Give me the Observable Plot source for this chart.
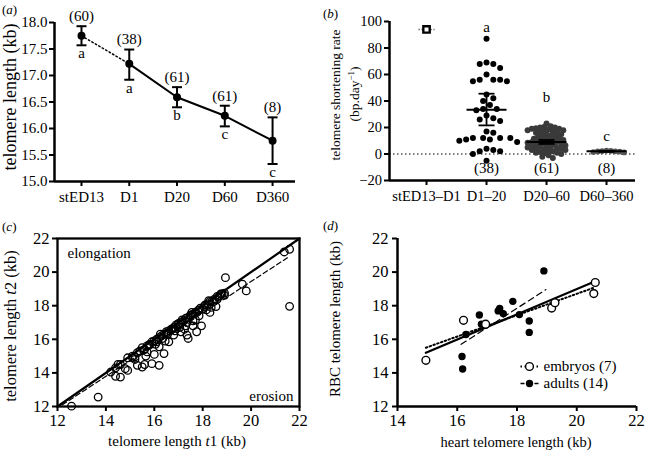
<!DOCTYPE html>
<html><head><meta charset="utf-8">
<script src="https://cdn.jsdelivr.net/npm/d3@7"></script>
<script src="https://cdn.jsdelivr.net/npm/@observablehq/plot@0.6"></script>
<style>
body{margin:0;background:#fff;width:646px;height:451px;position:relative;overflow:hidden;}
.panel{position:absolute;}
.panel svg{overflow:visible;}
</style></head><body>
<div id="pa" class="panel" style="left:0;top:0"></div>
<div id="pb" class="panel" style="left:320px;top:0"></div>
<div id="pc" class="panel" style="left:0;top:220px"></div>
<div id="pd" class="panel" style="left:320px;top:220px"></div>
<script>
const FONT = "Liberation Serif, Times New Roman, serif";

// ---------- Panel (a) data ----------
const stagesA = ["stED13", "D1", "D20", "D60", "D360"];
const meanA = [17.75, 17.22, 16.59, 16.24, 15.77];
const loA = [17.57, 16.92, 16.40, 16.04, 15.33];
const hiA = [17.93, 17.49, 16.78, 16.43, 16.21];
const nA = [60, 38, 61, 61, 8];
const letterA = ["a", "a", "b", "c", "c"];

// ---------- Panel (b) data ----------
const groupsB = ["stED13–D1", "D1–20", "D20–60", "D60–360"];
const rateStED = [94];
const rateD1_20 = [87, 69, 68, 68, 65, 60, 56, 56, 55, 55, 56, 45, 42, 40, 37, 34, 33, 34, 29, 26, 27, 25,
  17, 16, 12, 12, 12, 11, 11, 12, 9, 10, 4, 3, 2, 2, 0, -5];
const rateD20_60 = [23, 21, 20.5, 20, 20, 19.5, 19, 19, 18.5, 18, 18, 17.5, 17, 16.5, 16, 16, 15, 15, 14, 14,
  13, 13, 12.5, 12, 11.5, 11, 11, 10.5, 10, 10, 9.5, 9, 9, 8.5, 8, 8, 7.5, 7, 7, 6.5,
  6, 6, 5.5, 5, 5, 4.5, 4, 4, 3.5, 3, 3, 2.5, 2, 1.5, 1, 1, 0.5, 0, -1, -2, -3];
const rateD60_360 = [2.6, 2.2, 2.0, 1.9, 1.8, 1.5, 1.2, 2.4];
const meanB = [94, 33.4, 9.0, 2.0];
const loB = [null, 21.6, 7.6, 1.6];
const hiB = [null, 45.5, 10.6, 2.4];
const nB = [null, 38, 61, 8];
const letterB = ["", "a", "b", "c"];
const letterAtB = [null, 96, 43, 13.5];

// ---------- Panel (c) data ----------
const t1C = [12.58, 13.68, 21.59, 21.37, 21.59, 19.64, 19.8, 18.94, 18.9,
  14.2, 14.4, 14.5, 14.6, 14.8, 14.9, 15.1, 15.2, 15.3, 15.5, 15.6, 15.55, 15.7, 15.8, 15.9, 16.0, 16.1, 16.2, 16.2,
  16.35, 16.4, 16.5, 16.6, 16.7, 16.8, 16.9, 17.0, 17.1, 17.15, 17.3, 17.35, 17.4, 17.5, 17.6, 17.7, 17.75, 17.85,
  17.95, 18.05, 18.15, 18.25, 18.3, 18.45, 18.55, 18.65, 18.75,
  14.4, 14.6, 14.9, 15.1, 15.3, 15.4, 15.5, 15.6, 15.7, 15.8, 15.9, 16.0, 16.05, 16.1, 16.2, 16.25, 16.3, 16.4,
  16.5, 16.55, 16.6, 16.7, 16.8, 16.85, 16.9, 17.0, 17.05, 17.1, 17.2, 17.3, 17.35, 17.4, 17.5, 17.55, 17.6, 17.7,
  17.8, 17.85, 17.9, 18.0, 18.1, 18.2, 18.3, 18.4, 18.5, 18.6, 18.7, 18.8, 18.9, 15.2, 15.65, 16.45, 17.25, 17.6, 18.35];
const t2C = [12.02, 12.56, 17.96, 21.2, 21.36, 19.28, 18.88, 19.67, 18.62,
  14.05, 13.8, 14.5, 13.75, 14.25, 14.15, 14.9, 14.95, 14.45, 14.35, 14.5, 15.35, 15.25, 15.65, 14.55, 15.1, 15.85, 14.45, 15.55,
  16.05, 15.15, 16.35, 15.85, 16.55, 16.25, 16.65, 16.95, 16.45, 17.15, 16.8, 16.25, 16.05, 17.45, 16.8, 17.15, 16.45, 17.75,
  16.8, 17.95, 17.75, 18.3, 17.6, 18.25, 17.95, 18.5, 18.7,
  14.3, 14.5, 14.9, 15.0, 15.2, 15.3, 15.5, 15.4, 15.6, 15.7, 15.85, 15.9, 15.7, 16.0, 16.1, 16.3, 16.2, 16.3,
  16.45, 16.3, 16.5, 16.6, 16.7, 16.5, 16.85, 16.9, 16.7, 17.0, 17.1, 17.25, 17.0, 17.3, 17.4, 17.6, 17.5, 17.6,
  17.7, 17.4, 17.85, 17.8, 18.05, 18.1, 18.25, 18.3, 18.4, 18.55, 18.6, 18.7, 18.75, 14.8, 15.0, 15.9, 16.6, 17.1, 17.9];
const identityC = [12, 22];
const fitCx = [12.2, 21.5];
const fitCy = [12.1, 20.85];

// ---------- Panel (d) data ----------
const heartEmb = [14.95, 16.21, 16.95, 19.16, 19.27, 20.57, 20.62];
const rbcEmb = [14.75, 17.13, 16.9, 17.86, 18.18, 18.72, 19.38];
const heartAd = [16.16, 16.18, 16.29, 16.74, 16.81, 16.95, 17.37, 17.42, 17.54, 17.86, 18.08, 18.41, 18.41, 18.9];
const rbcAd = [14.98, 14.23, 16.29, 17.45, 16.9, 16.85, 17.69, 17.83, 17.53, 18.26, 17.47, 17.09, 16.41, 20.07];
const fitAllX = [14.95, 20.62], fitAllY = [15.2, 19.45];
const fitEmbX = [14.95, 20.62], fitEmbY = [15.5, 19.1];
const fitAdX = [16.13, 18.97], fitAdY = [15.7, 18.96];
const legendD = ["embryos (7)", "adults (14)"];

// ---------- helpers ----------
const hbar = {draw(ctx, size) { const w = Math.sqrt(size / Math.PI); ctx.moveTo(-w, 0); ctx.lineTo(w, 0); }};
function addText(svg, x, y, html, size, rotate = 0, anchor = "middle") {
  d3.select(svg).append("text")
    .attr("transform", `translate(${x},${y})` + (rotate ? ` rotate(${rotate})` : ""))
    .attr("text-anchor", anchor).attr("dy", "0.35em")
    .attr("font-family", FONT).attr("font-size", size).attr("fill", "black")
    .html(html);
}
const style = {fontFamily: FONT, color: "black", background: "transparent", overflow: "visible"};
const minus = d => d < 0 ? "\u2212" + Math.abs(d) : String(d);

// ---------- Panel (a) ----------
{
  const W = 320, H = 215, mL = 54, mR = 25, mT = 22, mB = 34;
  const xDom = [-0.565, 4.48];
  const data = stagesA.map((s, i) => ({i, s, m: meanA[i], lo: loA[i], hi: hiA[i], n: nA[i], L: letterA[i]}));
  const svg = Plot.plot({
    width: W, height: H, marginLeft: mL, marginRight: mR, marginTop: mT, marginBottom: mB, style,
    x: {domain: xDom}, y: {domain: [15, 18]},
    marks: [
      Plot.ruleX([xDom[0]], {strokeWidth: 2.5}),
      Plot.ruleY([15], {strokeWidth: 2.5}),
      Plot.axisY({ticks: d3.range(15, 18.01, 0.5), tickFormat: d3.format(".1f"), tickSize: 5, tickPadding: 2, strokeWidth: 2, fontSize: 15, label: null}),
      Plot.axisX({ticks: d3.range(stagesA.length), tickFormat: i => stagesA[i], tickSize: 5, tickPadding: 5, strokeWidth: 2, fontSize: 15, label: null}),
      Plot.line(data.slice(0, 2), {x: "i", y: "m", stroke: "black", strokeWidth: 1.5, strokeDasharray: "1.5,2.5"}),
      Plot.line(data.slice(1), {x: "i", y: "m", stroke: "black", strokeWidth: 2}),
      Plot.ruleX(data, {x: "i", y1: "lo", y2: "hi", strokeWidth: 2}),
      Plot.dot(data, {x: "i", y: "hi", symbol: hbar, r: 5, stroke: "black", fill: "none", strokeWidth: 2}),
      Plot.dot(data, {x: "i", y: "lo", symbol: hbar, r: 5, stroke: "black", fill: "none", strokeWidth: 2}),
      Plot.dot(data, {x: "i", y: "m", r: 4, fill: "black"}),
      Plot.text(data, {x: "i", y: "hi", text: d => `(${d.n})`, dy: -10, fontSize: 15}),
      Plot.text(data, {x: "i", y: "lo", text: "L", dy: 8, fontSize: 15})
    ]
  });
  addText(svg, 2, 9, "(<tspan font-style='italic'>a</tspan>)", 13, 0, "start");
  addText(svg, 10, 97, "telomere length (kb)", 18, -90);
  document.getElementById("pa").appendChild(svg);
}

// ---------- Panel (b) ----------
{
  const W = 326, H = 215, mL = 69, mR = 11, mT = 21, mB = 35;
  const xDom = [-0.617, 3.483], yDom = [-20, 100];
  const pxX = (W - mL - mR) / (xDom[1] - xDom[0]);
  const pxY = (H - mT - mB) / (yDom[1] - yDom[0]);
  function swarm(vals, minDist, step) {
    const idx = d3.range(vals.length).sort((a, b) => d3.descending(vals[a], vals[b]));
    const placed = [], off = new Array(vals.length);
    for (const i of idx) {
      const py = vals[i] * pxY;
      for (let k = 0; k < 400; k++) {
        const o = k === 0 ? 0 : (k % 2 ? 1 : -1) * Math.ceil(k / 2) * step;
        if (placed.every(p => (p.x - o) ** 2 + (p.y - py) ** 2 >= minDist * minDist)) {
          placed.push({x: o, y: py}); off[i] = o; break;
        }
      }
    }
    return off;
  }
  const pts = [];
  [[1, rateD1_20, 6.8, 3.4, "black", 3.3], [2, rateD20_60, 3.9, 2.1, "#3a3a3a", 3.3], [3, rateD60_360, 4.4, 4.4, "#555555", 3.0]]
    .forEach(([g, vals, md, st, col, r]) => {
      const off = swarm(vals, md, st);
      vals.forEach((v, i) => pts.push({x: g + off[i] / pxX, y: v, col, r}));
    });
  const grp = groupsB.map((s, i) => ({i, s, m: meanB[i], lo: loB[i], hi: hiB[i], n: nB[i], L: letterB[i], la: letterAtB[i]}));
  const withErr = grp.filter(d => d.lo != null);
  const svg = Plot.plot({
    width: W, height: H, marginLeft: mL, marginRight: mR, marginTop: mT, marginBottom: mB, style,
    x: {domain: xDom}, y: {domain: yDom},
    marks: [
      Plot.ruleY([0], {stroke: "black", strokeWidth: 1.2, strokeDasharray: "1.5,2.5"}),
      Plot.ruleX([xDom[0]], {strokeWidth: 2.5}),
      Plot.ruleY([yDom[0]], {strokeWidth: 2.5}),
      Plot.axisY({ticks: d3.range(-20, 101, 20), tickFormat: minus, tickSize: 5, tickPadding: 2.5, strokeWidth: 2, fontSize: 14.5, label: null}),
      Plot.axisX({ticks: d3.range(groupsB.length), tickFormat: i => groupsB[i], tickSize: 5, tickPadding: 5, strokeWidth: 2, fontSize: 14.5, label: null}),
      Plot.dot(pts, {x: "x", y: "y", r: "r", fill: "col", stroke: "none"}),
      Plot.dot(withErr, {x: "i", y: "m", symbol: hbar, r: 20, stroke: "black", fill: "none", strokeWidth: 2}),
      Plot.ruleX(withErr, {x: "i", y1: "lo", y2: "hi", strokeWidth: 1.8}),
      Plot.dot(withErr, {x: "i", y: "hi", symbol: hbar, r: 8, stroke: "black", fill: "none", strokeWidth: 1.8}),
      Plot.dot(withErr, {x: "i", y: "lo", symbol: hbar, r: 8, stroke: "black", fill: "none", strokeWidth: 1.8}),
      Plot.dot(rateStED, {x: () => 0, y: d => d, symbol: hbar, r: 8, stroke: "#555", fill: "none", strokeWidth: 1.5, strokeDasharray: "1.2,1.8"}),
      Plot.dot(rateStED, {x: () => 0, y: d => d, symbol: "square", r: 3.6, stroke: "black", fill: "white", strokeWidth: 2.4}),
      Plot.text(withErr, {x: "i", y: "la", text: "L", fontSize: 15}),
      Plot.text(withErr, {x: "i", frameAnchor: "bottom", dy: -8, text: d => `(${d.n})`, fontSize: 15})
    ]
  });
  addText(svg, 3, 13, "(<tspan font-style='italic'>b</tspan>)", 13, 0, "start");
  addText(svg, 15, 95, "telomere shortening rate", 13.5, -90);
  addText(svg, 34, 94, "(bp.day<tspan dy='-5' font-size='9'>\u22121</tspan><tspan dy='5'>)</tspan>", 13.5, -90);
  document.getElementById("pb").appendChild(svg);
}

// ---------- Panel (c) ----------
{
  const W = 320, H = 231, mL = 57, mR = 21, mT = 18, mB = 45;
  const ptsC = t1C.map((x, i) => ({x, y: t2C[i]}));
  const svg = Plot.plot({
    width: W, height: H, marginLeft: mL, marginRight: mR, marginTop: mT, marginBottom: mB, style,
    x: {domain: [12, 22]}, y: {domain: [12, 22]},
    marks: [
      Plot.frame({stroke: "black", strokeWidth: 2.3}),
      Plot.axisY({ticks: d3.range(12, 22.1, 2), tickSize: 5, tickPadding: 3, strokeWidth: 2, fontSize: 16.5, label: null}),
      Plot.axisX({ticks: d3.range(12, 22.1, 2), tickSize: 5, tickPadding: 3, strokeWidth: 2, fontSize: 16.5, label: null}),
      Plot.line(identityC, {x: d => d, y: d => d, stroke: "black", strokeWidth: 2.2}),
      Plot.line(fitCx, {x: d => d, y: (d, i) => fitCy[i], stroke: "black", strokeWidth: 1.2, strokeDasharray: "5,3"}),
      Plot.dot(ptsC, {x: "x", y: "y", r: 3.8, stroke: "black", fill: "none", strokeWidth: 1.3}),
      Plot.text(["elongation"], {text: d => d, frameAnchor: "top-left", textAnchor: "start", lineAnchor: "middle", dx: 10, dy: 15, fontSize: 15}),
      Plot.text(["erosion"], {text: d => d, frameAnchor: "bottom-right", textAnchor: "end", lineAnchor: "middle", dx: -6, dy: -10, fontSize: 15})
    ]
  });
  addText(svg, 2, 6, "(<tspan font-style='italic'>c</tspan>)", 13, 0, "start");
  addText(svg, 10, 106, "telomere length <tspan font-style='italic'>t</tspan>2 (kb)", 16.5, -90);
  addText(svg, 177, 221, "telomere length <tspan font-style='italic'>t</tspan>1 (kb)", 15);
  document.getElementById("pc").appendChild(svg);
}

// ---------- Panel (d) ----------
{
  const W = 326, H = 231, mL = 77, mR = 10, mT = 18, mB = 45;
  const emb = heartEmb.map((x, i) => ({x, y: rbcEmb[i]}));
  const ad = heartAd.map((x, i) => ({x, y: rbcAd[i]}));
  const svg = Plot.plot({
    width: W, height: H, marginLeft: mL, marginRight: mR, marginTop: mT, marginBottom: mB, style,
    x: {domain: [14, 22]}, y: {domain: [12, 22]},
    marks: [
      Plot.ruleX([14], {strokeWidth: 2.5}),
      Plot.ruleY([12], {strokeWidth: 2.5}),
      Plot.axisY({ticks: d3.range(12, 22.1, 2), tickSize: 5, tickPadding: 4, strokeWidth: 2, fontSize: 16.5, label: null}),
      Plot.axisX({ticks: d3.range(14, 22.1, 2), tickSize: 5, tickPadding: 3, strokeWidth: 2, fontSize: 16.5, label: null}),
      Plot.line(fitAllX, {x: d => d, y: (d, i) => fitAllY[i], stroke: "black", strokeWidth: 2.2}),
      Plot.line(fitEmbX, {x: d => d, y: (d, i) => fitEmbY[i], stroke: "black", strokeWidth: 2, strokeDasharray: "1.5,2.5"}),
      Plot.line(fitAdX, {x: d => d, y: (d, i) => fitAdY[i], stroke: "black", strokeWidth: 1.2, strokeDasharray: "6,4"}),
      Plot.dot(ad, {x: "x", y: "y", r: 3.7, fill: "black", stroke: "none"}),
      Plot.dot(emb, {x: "x", y: "y", r: 3.9, fill: "white", stroke: "black", strokeWidth: 1.4}),
      // legend
      Plot.dot([legendD[0]], {frameAnchor: "bottom-right", dx: -107, dy: -40, symbol: hbar, r: 9, stroke: "black", fill: "none", strokeWidth: 2, strokeDasharray: "1.5,2.5"}),
      Plot.dot([legendD[0]], {frameAnchor: "bottom-right", dx: -107, dy: -40, r: 3.9, fill: "white", stroke: "black", strokeWidth: 1.4}),
      Plot.text([legendD[0]], {text: d => d, frameAnchor: "bottom-right", textAnchor: "start", lineAnchor: "middle", dx: -93, dy: -40, fontSize: 15}),
      Plot.dot([legendD[1]], {frameAnchor: "bottom-right", dx: -107, dy: -23, symbol: hbar, r: 9, stroke: "black", fill: "none", strokeWidth: 1.3, strokeDasharray: "4,3"}),
      Plot.dot([legendD[1]], {frameAnchor: "bottom-right", dx: -107, dy: -23, r: 3.7, fill: "black", stroke: "none"}),
      Plot.text([legendD[1]], {text: d => d, frameAnchor: "bottom-right", textAnchor: "start", lineAnchor: "middle", dx: -93, dy: -23, fontSize: 15})
    ]
  });
  addText(svg, 3, 5, "(<tspan font-style='italic'>d</tspan>)", 13, 0, "start");
  addText(svg, 15, 99, "RBC telomere length (kb)", 15, -90);
  addText(svg, 196, 222, "heart telomere length (kb)", 14.5);
  document.getElementById("pd").appendChild(svg);
}
</script>
</body></html>
